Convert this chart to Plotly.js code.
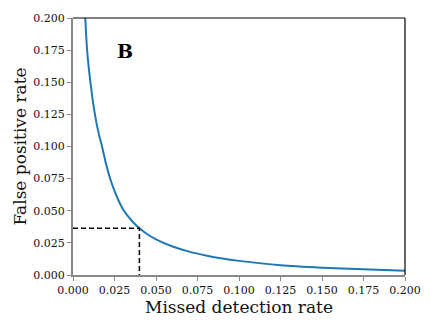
<!DOCTYPE html>
<html>
<head>
<meta charset="utf-8">
<script src="https://cdn.plot.ly/plotly-3.0.1.min.js"></script>
<style>
  html, body { margin: 0; padding: 0; background: #fff; }
  #chart { width: 436px; height: 327px; }
</style>
</head>
<body>
<div id="chart"></div>
<script>
// curve
const missedRate = [0.0070, 0.0074, 0.0085, 0.0105, 0.0132, 0.0155, 0.0175, 0.0200, 0.0225, 0.0250,
                    0.0275, 0.0304, 0.0350, 0.0400, 0.0450, 0.0500, 0.0600, 0.0700, 0.0800, 0.0900,
                    0.1000, 0.1250, 0.1500, 0.1750, 0.2000];
const falsePosRate = [0.2100, 0.2000, 0.1750, 0.1500, 0.1250, 0.1100, 0.1000, 0.0860, 0.0745, 0.0655,
                      0.0578, 0.0506, 0.0428, 0.0363, 0.0315, 0.0278, 0.0222, 0.0182, 0.0152, 0.0128,
                      0.0110, 0.0076, 0.0057, 0.0044, 0.0033];

// operating point guide
const guideX = [0, 0.04, 0.04];
const guideY = [0.0363, 0.0363, 0];

const tickVals = [0, 0.025, 0.05, 0.075, 0.1, 0.125, 0.15, 0.175, 0.2];
const tickText = ['0.000', '0.025', '0.050', '0.075', '0.100', '0.125', '0.150', '0.175', '0.200'];

const serif = 'DejaVu Serif, serif';

const curve = {
    x: missedRate,
    y: falsePosRate,
    mode: 'lines',
    line: { color: '#1f77b4', width: 2, shape: 'spline', smoothing: 0.8 },
    hoverinfo: 'skip'
};

const guide = {
    x: guideX,
    y: guideY,
    mode: 'lines',
    line: { color: '#000000', width: 1.5, dash: '5px,3px' },
    hoverinfo: 'skip'
};

const axisCommon = {
    range: [0, 0.2],
    tickvals: tickVals,
    ticktext: tickText,
    ticks: 'outside',
    ticklen: 4,
    tickwidth: 1,
    tickcolor: '#888888',
    showline: true,
    linecolor: '#888888',
    linewidth: 2,
    showgrid: false,
    zeroline: false,
    tickfont: { family: serif, size: 11, color: '#111111' },
    automargin: false
};

const layout = {
    width: 436,
    height: 327,
    margin: { l: 73, r: 31, t: 18, b: 52 },
    paper_bgcolor: '#ffffff',
    plot_bgcolor: '#ffffff',
    showlegend: false,
    xaxis: Object.assign({}, axisCommon, {
        title: { text: 'Missed detection rate', font: { family: serif, size: 17, color: '#111111' }, standoff: 3 }
    }),
    yaxis: Object.assign({}, axisCommon, {
        title: { text: 'False positive rate', font: { family: serif, size: 17, color: '#111111' }, standoff: 2 }
    }),
    shapes: [
        // top and right spines are black
        { type: 'line', xref: 'paper', yref: 'paper', x0: 0, x1: 1, y0: 1, y1: 1, line: { color: '#000000', width: 1.2 } },
        { type: 'line', xref: 'paper', yref: 'paper', x0: 1, x1: 1, y0: 0, y1: 1, line: { color: '#000000', width: 1.2 } }
    ],
    annotations: [
        { text: '<b>B</b>', xref: 'paper', yref: 'paper', x: 0.127, y: 0.922, showarrow: false,
          font: { family: serif, size: 19, color: '#000000' } }
    ]
};

Plotly.newPlot('chart', [curve, guide], layout, { staticPlot: true, displayModeBar: false });
</script>
</body>
</html>
